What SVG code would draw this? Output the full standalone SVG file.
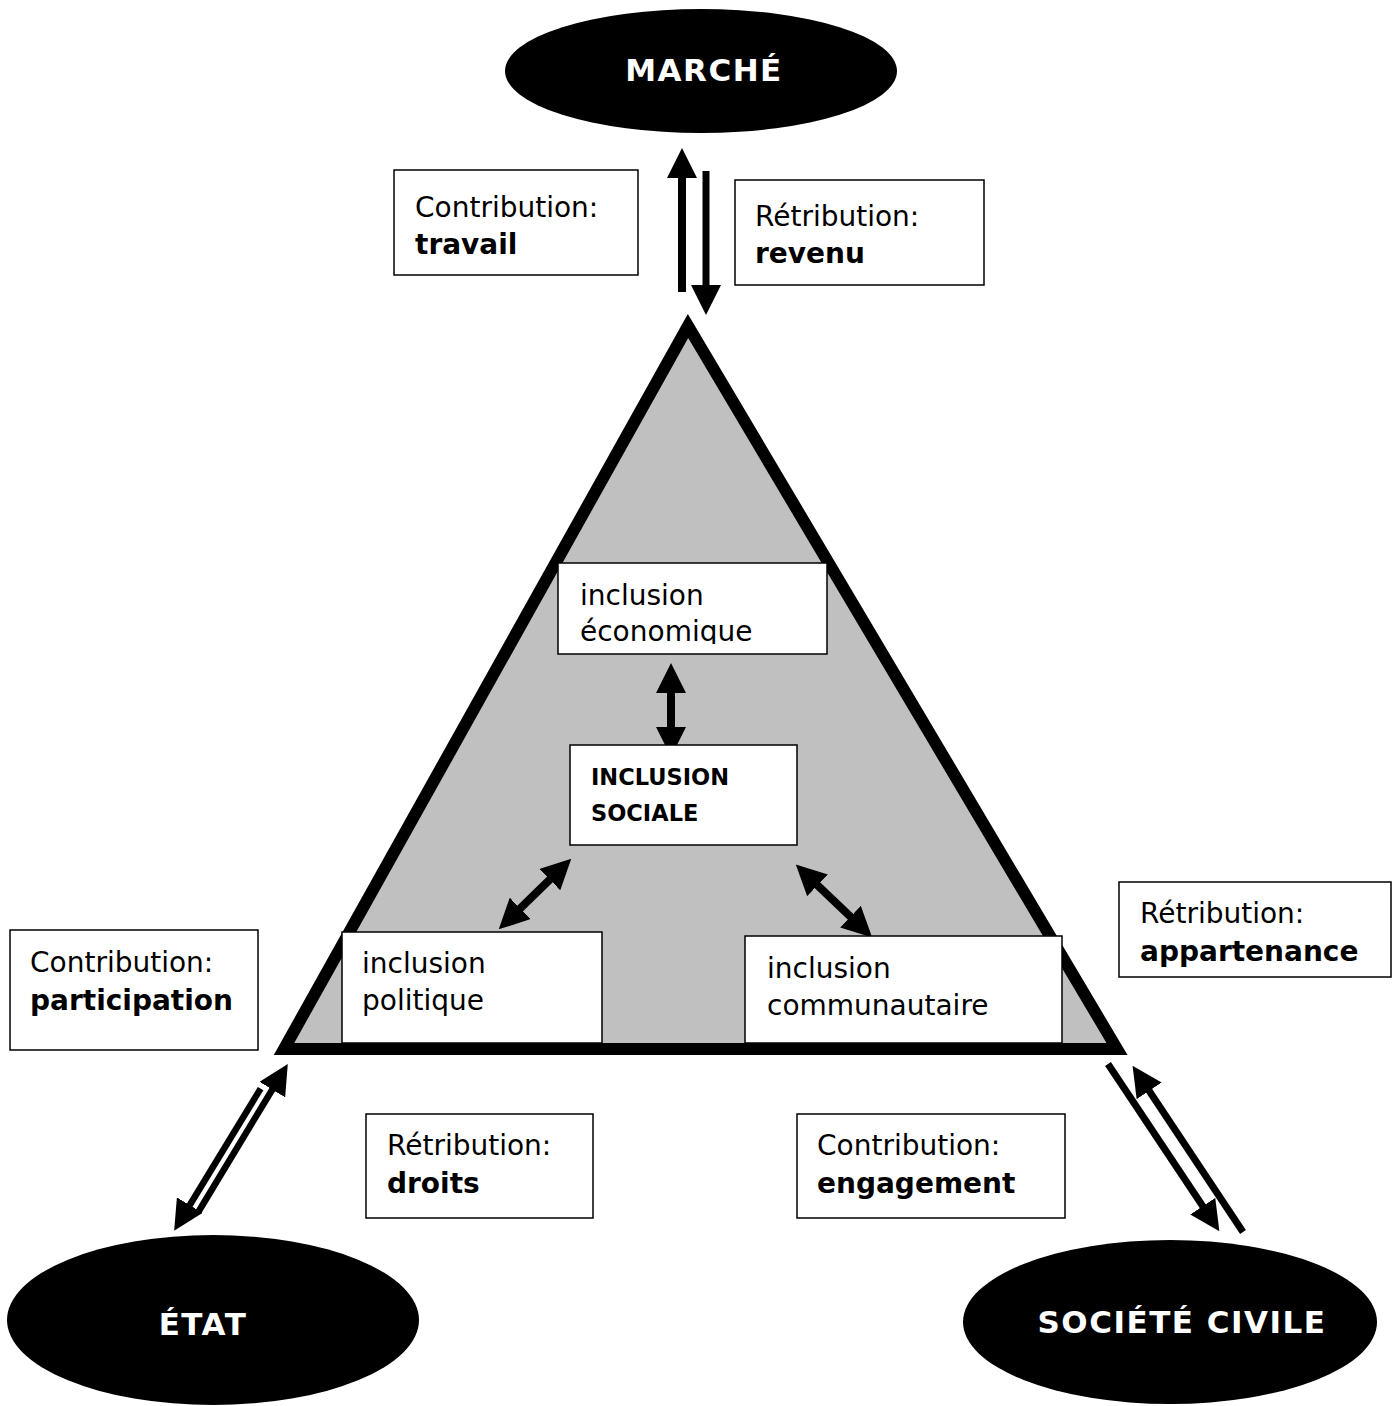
<svg xmlns="http://www.w3.org/2000/svg" width="1398" height="1406" viewBox="0 0 1398 1406">
  <style>
    .pole { fill: #000; }
    .pole-label { font-family: "DejaVu Sans", Verdana, sans-serif; font-weight: bold; font-size: 31px; fill: #fff; text-anchor: middle; letter-spacing: 1.5px; }
    .box { fill: #fff; stroke: #000; stroke-width: 1.5; }
    .txt { font-family: "DejaVu Sans", Verdana, sans-serif; font-size: 28px; fill: #000; }
    .b { font-weight: bold; }
    .core { font-family: "DejaVu Sans", Verdana, sans-serif; font-size: 22.5px; font-weight: bold; fill: #000; }
    .arrow { stroke: #000; fill: none; marker-end: url(#head); }
    .twoway { marker-start: url(#head); }
  </style>
  <defs>
    <marker id="head" viewBox="0 0 30 30" refX="1" refY="15" markerWidth="30" markerHeight="30" markerUnits="userSpaceOnUse" orient="auto-start-reverse">
      <path d="M0,0 L30,15 L0,30 z" fill="#000"/>
    </marker>
    <clipPath id="clip-eco">
      <rect x="558" y="563" width="269" height="81"/>
    </clipPath>
  </defs>

  <rect width="1398" height="1406" fill="#fff"/>

  <!-- central triangle -->
  <g id="triangle">
    <polygon points="688,326 284,1049 1117,1049" fill="#c0c0c0" stroke="#000" stroke-width="12" stroke-linejoin="miter"/>
  </g>

  <!-- connectors -->
  <g id="connectors">
    <!-- market -->
    <line class="arrow" x1="682" y1="292" x2="682" y2="177" stroke-width="8"/>
    <line class="arrow" x1="706" y1="171" x2="706" y2="286" stroke-width="7"/>
    <!-- state -->
    <line class="arrow" x1="198.3" y1="1212" x2="272.8" y2="1088.7" stroke-width="6.5"/>
    <line class="arrow" x1="260.6" y1="1088.6" x2="189.2" y2="1206" stroke-width="6.5"/>
    <!-- civil society -->
    <line class="arrow" x1="1108" y1="1064" x2="1203.3" y2="1207" stroke-width="7"/>
    <line class="arrow" x1="1243" y1="1232" x2="1148.6" y2="1090" stroke-width="7"/>
    <!-- inside the triangle -->
    <line class="arrow twoway" x1="671" y1="692" x2="671" y2="728" stroke-width="8"/>
    <line class="arrow twoway" x1="519.5" y1="909.1" x2="550.5" y2="878.9" stroke-width="8"/>
    <line class="arrow twoway" x1="816.8" y1="884.6" x2="851.2" y2="917.4" stroke-width="8"/>
  </g>

  <!-- poles -->
  <g id="marche">
    <ellipse class="pole" cx="701" cy="71" rx="196" ry="62"/>
    <text class="pole-label" x="704" y="81">MARCHÉ</text>
  </g>
  <g id="etat">
    <ellipse class="pole" cx="213" cy="1320" rx="206" ry="85"/>
    <text class="pole-label" x="203" y="1335">ÉTAT</text>
  </g>
  <g id="societe-civile">
    <ellipse class="pole" cx="1170" cy="1322" rx="207" ry="82"/>
    <text class="pole-label" x="1182" y="1333">SOCIÉTÉ CIVILE</text>
  </g>

  <!-- exchanges -->
  <g id="contribution-travail">
    <rect class="box" x="394" y="170" width="244" height="105"/>
    <text class="txt" x="415" y="217">Contribution:</text>
    <text class="txt b" x="415" y="254">travail</text>
  </g>
  <g id="retribution-revenu">
    <rect class="box" x="735" y="180" width="249" height="105"/>
    <text class="txt" x="755" y="226">Rétribution:</text>
    <text class="txt b" x="755" y="263">revenu</text>
  </g>
  <g id="contribution-participation">
    <rect class="box" x="10" y="930" width="248" height="120"/>
    <text class="txt" x="30" y="972">Contribution:</text>
    <text class="txt b" x="30" y="1010">participation</text>
  </g>
  <g id="retribution-droits">
    <rect class="box" x="366" y="1114" width="227" height="104"/>
    <text class="txt" x="387" y="1155">Rétribution:</text>
    <text class="txt b" x="387" y="1193">droits</text>
  </g>
  <g id="contribution-engagement">
    <rect class="box" x="797" y="1114" width="268" height="104"/>
    <text class="txt" x="817" y="1155">Contribution:</text>
    <text class="txt b" x="817" y="1193">engagement</text>
  </g>
  <g id="retribution-appartenance">
    <rect class="box" x="1119" y="882" width="272" height="95"/>
    <text class="txt" x="1140" y="923">Rétribution:</text>
    <text class="txt b" x="1140" y="961">appartenance</text>
  </g>

  <!-- dimensions of inclusion -->
  <g id="inclusion-economique">
    <rect class="box" x="558" y="563" width="269" height="91"/>
    <g clip-path="url(#clip-eco)">
      <text class="txt" x="580" y="605">inclusion</text>
      <text class="txt" x="580" y="641">économique</text>
    </g>
  </g>
  <g id="inclusion-sociale">
    <rect class="box" x="570" y="745" width="227" height="100"/>
    <text class="core" x="591" y="785">INCLUSION</text>
    <text class="core" x="591" y="821">SOCIALE</text>
  </g>
  <g id="inclusion-politique">
    <rect class="box" x="342" y="932" width="260" height="111"/>
    <text class="txt" x="362" y="973">inclusion</text>
    <text class="txt" x="362" y="1010">politique</text>
  </g>
  <g id="inclusion-communautaire">
    <rect class="box" x="745" y="936" width="317" height="107"/>
    <text class="txt" x="767" y="978">inclusion</text>
    <text class="txt" x="767" y="1015">communautaire</text>
  </g>
</svg>
